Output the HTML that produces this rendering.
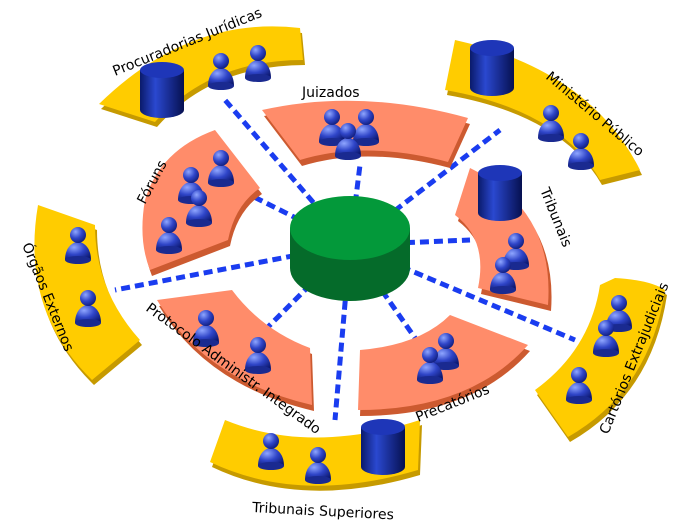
<!DOCTYPE html>
<html><head><meta charset="utf-8"><style>
html,body{margin:0;padding:0;background:#fff;}
svg{display:block;}
text{font-family:"DejaVu Sans","Liberation Sans",sans-serif;font-size:14px;fill:#000;}
</style></head><body>
<svg width="700" height="531" viewBox="0 0 700 531" xmlns="http://www.w3.org/2000/svg">
<defs>
<radialGradient id="pg" cx="0.35" cy="0.3" r="0.8"><stop offset="0" stop-color="#8fa6ff"/><stop offset="0.5" stop-color="#2f45c8"/><stop offset="1" stop-color="#0c1870"/></radialGradient>
<linearGradient id="cg" x1="0" x2="1"><stop offset="0" stop-color="#0a1a6a"/><stop offset="0.35" stop-color="#2a48d0"/><stop offset="1" stop-color="#061050"/></linearGradient>
<symbol id="p" viewBox="-16 -26 32 42" overflow="visible">
<path d="M-13 12 C-13 0 -6 -6 0 -6 C6 -6 13 0 13 12 Z" fill="url(#pg)"/>
<ellipse cx="0" cy="12" rx="13" ry="4" fill="#1a2a90"/>
<circle cx="0" cy="-13" r="8" fill="url(#pg)"/>
</symbol>
<symbol id="c" overflow="visible">
<path d="M-22 0 V40 A22 8 0 0 0 22 40 V0 Z" fill="url(#cg)"/>
<ellipse cx="0" cy="0" rx="22" ry="8" fill="#1e36b8"/>
</symbol>
</defs>

<g stroke="#1a3cf0" stroke-width="5" stroke-dasharray="9,5" fill="none">
<line x1="350" y1="245" x2="225" y2="100"/>
<line x1="350" y1="245" x2="500" y2="130"/>
<line x1="350" y1="245" x2="360" y2="165"/>
<line x1="350" y1="245" x2="250" y2="195"/>
<line x1="350" y1="245" x2="470" y2="240"/>
<line x1="350" y1="245" x2="115" y2="290"/>
<line x1="350" y1="245" x2="575" y2="340"/>
<line x1="350" y1="245" x2="265" y2="330"/>
<line x1="350" y1="245" x2="420" y2="345"/>
<line x1="350" y1="245" x2="335" y2="420"/>
</g>

<g>
<path d="M99 104 Q190 15 300 28 L303 60 Q210 60 155 122 Z" fill="#c69a00" transform="translate(2,5)"/>
<path d="M99 104 Q190 15 300 28 L303 60 Q210 60 155 122 Z" fill="#ffcc00"/>
<path d="M455 40 Q590 70 640 170 L600 180 Q560 110 445 90 Z" fill="#c69a00" transform="translate(2,5)"/>
<path d="M455 40 Q590 70 640 170 L600 180 Q560 110 445 90 Z" fill="#ffcc00"/>
<path d="M38 205 Q20 310 92 380 L140 340 Q95 290 95 225 Z" fill="#c69a00" transform="translate(2,5)"/>
<path d="M38 205 Q20 310 92 380 L140 340 Q95 290 95 225 Z" fill="#ffcc00"/>
<path d="M615 278 Q650 280 665 290 Q650 390 568 437 L535 390 Q590 350 600 285 Z" fill="#c69a00" transform="translate(2,5)"/>
<path d="M615 278 Q650 280 665 290 Q650 390 568 437 L535 390 Q590 350 600 285 Z" fill="#ffcc00"/>
<path d="M225 420 Q310 455 420 420 L418 470 Q300 505 210 462 Z" fill="#c69a00" transform="translate(2,5)"/>
<path d="M225 420 Q310 455 420 420 L418 470 Q300 505 210 462 Z" fill="#ffcc00"/>
</g>

<g>
<path d="M262 110 Q360 88 468 118 L448 162 Q365 140 300 160 Z" fill="#cc5a30" transform="translate(2,6)"/>
<path d="M262 110 Q360 88 468 118 L448 162 Q365 140 300 160 Z" fill="#ff8c6a"/>
<path d="M145 200 Q160 150 215 130 L260 188 Q235 205 228 240 L150 270 Q138 240 145 200 Z" fill="#cc5a30" transform="translate(2,6)"/>
<path d="M145 200 Q160 150 215 130 L260 188 Q235 205 228 240 L150 270 Q138 240 145 200 Z" fill="#ff8c6a"/>
<path d="M470 168 Q555 210 548 305 L478 288 Q488 240 455 215 Z" fill="#cc5a30" transform="translate(3,6)"/>
<path d="M470 168 Q555 210 548 305 L478 288 Q488 240 455 215 Z" fill="#ff8c6a"/>
<path d="M157 300 L232 290 Q262 330 310 348 L312 405 Q205 380 157 300 Z" fill="#cc5a30" transform="translate(2,6)"/>
<path d="M157 300 L232 290 Q262 330 310 348 L312 405 Q205 380 157 300 Z" fill="#ff8c6a"/>
<path d="M360 350 Q420 345 450 315 L528 345 Q470 410 358 410 Z" fill="#cc5a30" transform="translate(2,6)"/>
<path d="M360 350 Q420 345 450 315 L528 345 Q470 410 358 410 Z" fill="#ff8c6a"/>
</g>

<path d="M290 228 V268 A60 33 0 0 0 410 268 V228 Z" fill="#056b2a"/>
<ellipse cx="350" cy="228" rx="60" ry="32" fill="#03993a"/>

<use href="#c" x="162" y="70"/>
<use href="#c" x="492" y="48"/>
<use href="#c" x="500" y="173"/>
<use href="#c" x="383" y="427"/>

<g>
<use href="#p" x="205" y="48" width="32" height="42"/>
<use href="#p" x="242" y="40" width="32" height="42"/>
<use href="#p" x="535" y="100" width="32" height="42"/>
<use href="#p" x="565" y="128" width="32" height="42"/>
<use href="#p" x="316" y="104" width="32" height="42"/>
<use href="#p" x="350" y="104" width="32" height="42"/>
<use href="#p" x="332" y="118" width="32" height="42"/>
<use href="#p" x="175" y="162" width="32" height="42"/>
<use href="#p" x="205" y="145" width="32" height="42"/>
<use href="#p" x="183" y="185" width="32" height="42"/>
<use href="#p" x="153" y="212" width="32" height="42"/>
<use href="#p" x="500" y="228" width="32" height="42"/>
<use href="#p" x="487" y="252" width="32" height="42"/>
<use href="#p" x="62" y="222" width="32" height="42"/>
<use href="#p" x="72" y="285" width="32" height="42"/>
<use href="#p" x="190" y="305" width="32" height="42"/>
<use href="#p" x="242" y="332" width="32" height="42"/>
<use href="#p" x="430" y="328" width="32" height="42"/>
<use href="#p" x="414" y="342" width="32" height="42"/>
<use href="#p" x="603" y="290" width="32" height="42"/>
<use href="#p" x="590" y="315" width="32" height="42"/>
<use href="#p" x="563" y="362" width="32" height="42"/>
<use href="#p" x="255" y="428" width="32" height="42"/>
<use href="#p" x="302" y="442" width="32" height="42"/>
</g>

<text x="115" y="76" transform="rotate(-22 115 76)">Procuradorias Jurídicas</text>
<text x="545" y="78" transform="rotate(40 545 78)">Ministério Público</text>
<text x="302" y="97">Juizados</text>
<text x="145" y="205" transform="rotate(-62 145 205)">Fóruns</text>
<text x="540" y="190" transform="rotate(68 540 190)">Tribunais</text>
<text x="22" y="245" transform="rotate(68 22 245)">Órgãos Externos</text>
<text x="145" y="310" transform="rotate(36 145 310)">Protocolo Administr. Integrado</text>
<text x="418" y="422" transform="rotate(-22 418 422)">Precatórios</text>
<text x="608" y="435" transform="rotate(-68 608 435)">Cartórios Extrajudiciais</text>
<text x="252" y="512" transform="rotate(3 252 512)">Tribunais Superiores</text>
</svg>
</body></html>
